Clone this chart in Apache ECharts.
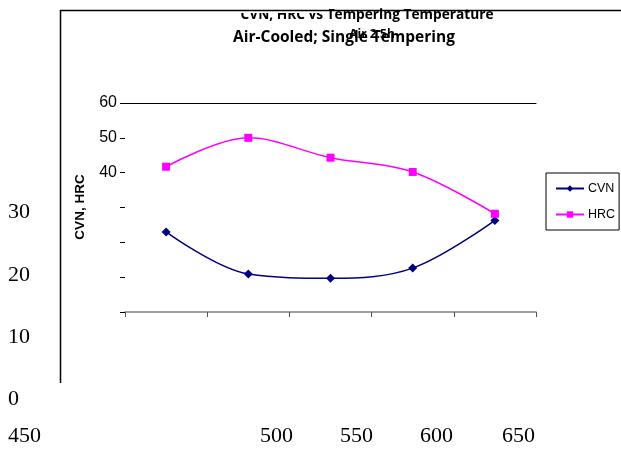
<!DOCTYPE html>
<html><head><meta charset="utf-8">
<script src="https://cdn.jsdelivr.net/npm/echarts@6/dist/echarts.min.js"></script>
<style>html,body{margin:0;padding:0;background:#fff}#c{width:621px;height:451px}</style>
</head><body><div id="c"></div>
<script>
var categories = ['450','500','550','600','650'];
var cvn = [23.0, 10.9, 9.7, 12.6, 26.3];
var hrc = [41.7, 50.0, 44.3, 40.2, 28.2];
var yShownLabels = ['40','50','60'];
var strayYLabels = ['30','20','10','0'];
var strayXLabels = ['450','500','550','600','650'];
var titleLine1 = 'CVN, HRC vs Tempering Temperature';
var titleLine2 = 'Air-Cooled; Single Tempering';
var titleOverlap = 'Air 2.5h';

var chart = echarts.init(document.getElementById('c'), null, {renderer:'canvas'});
var strayYPos = [[8,213],[8,276],[8,338],[8,400]];
var strayXPos = [[8,437],[260,437],[340,437],[420,437],[502,437]];
var graphics = [];
strayYLabels.forEach(function(t,i){
  graphics.push({type:'text', left:strayYPos[i][0], top:strayYPos[i][1]-12,
    style:{text:t, font:'22px "Liberation Serif"', fill:'#000'}});
});
strayXLabels.forEach(function(t,i){
  graphics.push({type:'text', left:strayXPos[i][0], top:strayXPos[i][1]-12,
    style:{text:t, font:'22px "Liberation Serif"', fill:'#000'}});
});
graphics.push({type:'text', x:367, y:15, z:10,
  style:{text:titleLine1, font:'bold 13.7px "Open Sans"', fill:'#000', textAlign:'center', textVerticalAlign:'middle'}});
graphics.push({type:'rect', shape:{x:200,y:0,width:129,height:13}, z:11, style:{fill:'#fff'}});
graphics.push({type:'text', x:344, y:38, z:10,
  style:{text:titleLine2, font:'bold 15.5px "Open Sans"', fill:'#000', textAlign:'center', textVerticalAlign:'middle'}});
graphics.push({type:'text', x:372, y:35, z:12,
  style:{text:titleOverlap, font:'bold 12px "Open Sans"', fill:'#000', textAlign:'center', textVerticalAlign:'middle'}});
graphics.push({type:'line', z:12, shape:{x1:60,y1:10.5,x2:621,y2:10.5}, style:{stroke:'#000', lineWidth:1.5}});
graphics.push({type:'line', z:12, shape:{x1:60.5,y1:10,x2:60.5,y2:383}, style:{stroke:'#000', lineWidth:1.5}});
graphics.push({type:'text', x:80, y:207, rotation:Math.PI/2,
  style:{text:'CVN, HRC', font:'bold 13.5px "Liberation Sans"', fill:'#000', textAlign:'center', textVerticalAlign:'middle'}});

chart.setOption({
  animation:false,
  backgroundColor:'#fff',
  grid:{left:125, right:85, top:103, bottom:139},
  legend:{
    orient:'vertical', left:546, top:173,
    borderColor:'#000', borderWidth:1, padding:[9,4,9,9], itemGap:13,
    itemWidth:28, itemHeight:8,
    textStyle:{fontFamily:'Liberation Sans', fontSize:12.5, color:'#000', padding:[0,0,0,-1]},
    data:['CVN','HRC']
  },
  xAxis:[{
    type:'category', data:categories, boundaryGap:true,
    axisLine:{lineStyle:{color:'#808080', width:1.5}},
    axisTick:{show:true, length:5, lineStyle:{color:'#555'}},
    axisLabel:{show:false}, splitLine:{show:false}
  },{
    type:'category', data:categories, position:'top',
    axisLine:{show:true, lineStyle:{color:'#000', width:1}},
    axisTick:{show:false}, axisLabel:{show:false}
  }],
  yAxis:{
    type:'value', min:0, max:60, interval:10,
    axisLine:{show:false},
    axisTick:{show:true, length:5, lineStyle:{color:'#000'}},
    splitLine:{show:false},
    axisLabel:{margin:8, fontFamily:'Liberation Sans', fontSize:16, color:'#000',
      formatter:function(v){ return yShownLabels.indexOf(String(v))>=0 ? String(v) : ''; }}
  },
  series:[{
    name:'CVN', type:'line', data:cvn, smooth:0.35,
    symbol:'diamond', symbolSize:9,
    lineStyle:{color:'#000080', width:1.5},
    itemStyle:{color:'#000080'}
  },{
    name:'HRC', type:'line', data:hrc, smooth:0.35,
    symbol:'rect', symbolSize:8,
    lineStyle:{color:'#FF00FF', width:1.5},
    itemStyle:{color:'#FF00FF'}
  }],
  graphic:graphics
});
</script></body></html>
